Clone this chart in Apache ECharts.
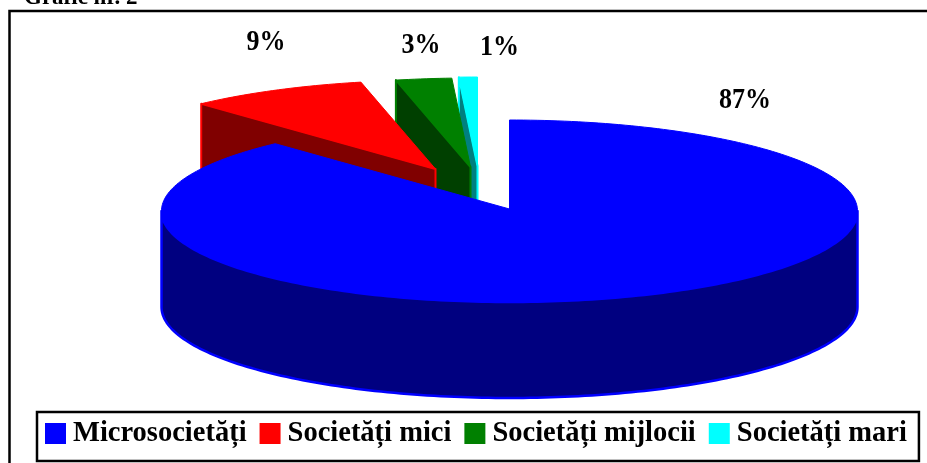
<!DOCTYPE html>
<html>
<head>
<meta charset="utf-8">
<script src="https://cdn.jsdelivr.net/npm/echarts@6/dist/echarts.min.js"></script>
<style>
html,body{margin:0;padding:0;background:#fff;overflow:hidden;}
#chart{width:927px;height:463px;}
</style>
</head>
<body>
<div id="chart"></div>
<script>
var categories = ['Microsocietăți', 'Societăți mici', 'Societăți mijlocii', 'Societăți mari'];
var shares = [87, 9, 3, 1];
var topColors = ['#0000ff', '#ff0000', '#008000', '#00ffff'];
var sideColors = ['#000080', '#800000', '#004000', '#008080'];

// pie geometry, all in px
var cx = 509.5, cy = 211, apexY = 209, rx = 348, ry = 91, depth = 96;
var squash = 0.855; // the 3d view compresses angles a bit near the back
var explode = [[0, 0], [-74, -40], [-39, -42], [-32, -43]];
var labelPos = [[745, 100], [266, 42], [421, 45], [499.5, 47]];

function project(deg) {
  var t = deg * Math.PI / 180;
  return Math.atan2(squash * Math.sin(t), Math.cos(t));
}
function rimPoint(a, dx, dy) {
  return [cx + dx + rx * Math.sin(a), cy + dy - ry * Math.cos(a)];
}
function arcPoints(a0, a1, dx, dy) {
  var n = Math.max(2, Math.ceil(Math.abs(a1 - a0) / 0.02));
  var pts = [];
  for (var i = 0; i <= n; i++) {
    pts.push(rimPoint(a0 + (a1 - a0) * i / n, dx, dy));
  }
  return pts;
}

// running start/end angle of each slice, clockwise from 12 o'clock
var total = shares.reduce(function (s, v) { return s + v; }, 0);
var sliceAngles = [];
var acc = 0;
shares.forEach(function (v) {
  sliceAngles.push([acc / total * 360, (acc + v) / total * 360]);
  acc += v;
});

function renderSlice(params, api) {
  var i = api.value(0);
  var a0 = project(api.value(1));
  var a1 = project(api.value(2));
  if (a1 < a0) a1 += Math.PI * 2;
  if (a0 < 0) { a0 += Math.PI * 2; a1 += Math.PI * 2; }
  var dx = explode[i][0], dy = explode[i][1];
  var apex = [cx + dx, apexY + dy];
  var children = [];

  if (i === 0) {
    // outer wall of the big slice, only the front half shows
    var front = arcPoints(Math.PI / 2, Math.PI * 1.5, dx, dy);
    var low = front.map(function (p) { return [p[0], p[1] + depth]; }).reverse();
    children.push({
      type: 'polygon',
      shape: { points: front.concat(low) },
      style: { fill: sideColors[i], stroke: topColors[i], lineWidth: 2.5, lineJoin: 'round' }
    });
  } else {
    // cut face under the left edge of the exploded slices
    var corner = rimPoint(a0, dx, dy);
    children.push({
      type: 'polygon',
      shape: { points: [corner, apex, [apex[0], apex[1] + depth], [corner[0], corner[1] + depth]] },
      style: { fill: sideColors[i], stroke: topColors[i], lineWidth: 2, lineJoin: 'round' }
    });
  }
  children.push({
    type: 'polygon',
    shape: { points: [apex].concat(arcPoints(a0, a1, dx, dy)) },
    style: { fill: topColors[i], stroke: topColors[i], lineWidth: 1, lineJoin: 'round' }
  });
  return { type: 'group', children: children };
}

var serif = '"Liberation Serif", "Times New Roman", serif';
var graphics = [
  { type: 'rect', shape: { x: 9.5, y: 11, width: 940, height: 470 }, style: { fill: 'none', stroke: '#000', lineWidth: 2.5 }, silent: true },
  { type: 'text', x: 24, y: 10, style: { text: 'Grafic nr. 2', font: 'bold 23px ' + serif, fill: '#000', verticalAlign: 'bottom' } }
];
labelPos.forEach(function (p, i) {
  graphics.push({
    type: 'text', x: p[0], y: p[1], scaleY: 1.14,
    style: { text: shares[i] + '%', font: 'bold 26px ' + serif, fill: '#000', align: 'center', verticalAlign: 'middle' }
  });
});

// one series per slice so the legend picks them up; drawn back to front
var seriesList = categories.map(function (name, i) {
  return {
    type: 'custom',
    name: name,
    coordinateSystem: 'none',
    renderItem: renderSlice,
    clip: false,
    z: 10 - i,
    itemStyle: { color: topColors[i] },
    data: [[i, sliceAngles[i][0], sliceAngles[i][1]]]
  };
});

var chart = echarts.init(document.getElementById('chart'));
chart.setOption({
  animation: false,
  graphic: graphics,
  legend: {
    left: 37,
    top: 412,
    width: 870,
    padding: [7, 12, 13, 8],
    orient: 'horizontal',
    itemWidth: 21,
    itemHeight: 21,
    itemGap: 13,
    borderColor: '#000',
    borderWidth: 2.5,
    backgroundColor: '#fff',
    selectedMode: false,
    icon: 'rect',
    data: categories,
    textStyle: { fontFamily: serif, fontWeight: 'bold', fontSize: 28.5, color: '#000', padding: [2, 0, 0, 2] }
  },
  series: seriesList
});
</script>
</body>
</html>
